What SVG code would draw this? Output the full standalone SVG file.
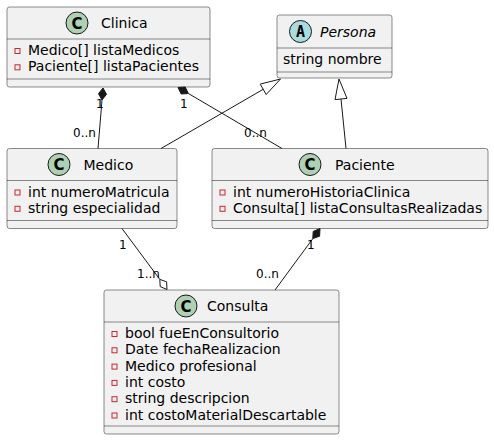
<svg xmlns="http://www.w3.org/2000/svg" width="494" height="440" viewBox="0 0 494 440">
<style>
.box{fill:#F1F1F1;stroke:#181818;stroke-width:0.5}
.sep{stroke:#181818;stroke-width:0.5}
.cc{fill:#ADD1B2;stroke:#181818;stroke-width:1}
.ca{fill:#A9DCDF;stroke:#181818;stroke-width:1}
.ltr{font-family:"DejaVu Sans",sans-serif;font-size:15px;font-weight:bold;fill:#000;text-anchor:middle}
.ltra{font-family:"DejaVu Sans Mono",monospace;font-size:15px;font-weight:bold;fill:#000;text-anchor:middle}
.name{font-family:"DejaVu Sans",sans-serif;font-size:14px;fill:#000}
.attr{font-family:"DejaVu Sans",sans-serif;font-size:14px;fill:#000}
.priv{fill:none;stroke:#C82930;stroke-width:1}
.ln{stroke:#181818;stroke-width:1;fill:none}
.lbl{font-family:"DejaVu Sans",sans-serif;font-size:12px;fill:#000}
</style>
<g id="Clinica">
<rect class="box" x="7" y="7" width="203" height="80" rx="2.5"/>
<circle class="cc" cx="77" cy="23" r="11"/>
<text class="ltr" x="77" y="28.5">C</text>
<text class="name" x="101" y="28">Clinica</text>
<line class="sep" x1="7" y1="39" x2="210" y2="39"/>
<rect class="priv" x="15" y="48.5" width="5" height="5"/>
<text class="attr" x="28" y="55">Medico[] listaMedicos</text>
<rect class="priv" x="15" y="64.8" width="5" height="5"/>
<text class="attr" x="28" y="71.3">Paciente[] listaPacientes</text>
<line class="sep" x1="7" y1="79" x2="210" y2="79"/>
</g>
<g id="Persona">
<rect class="box" x="277" y="15" width="115" height="63" rx="2.5"/>
<circle class="ca" cx="300.5" cy="31.5" r="11"/>
<text class="ltra" x="300.5" y="37">A</text>
<text class="name" x="320" y="36.5" font-style="italic">Persona</text>
<line class="sep" x1="277" y1="48" x2="392" y2="48"/>
<text class="attr" x="283" y="64">string nombre</text>
<line class="sep" x1="277" y1="72" x2="392" y2="72"/>
</g>
<g id="Medico">
<rect class="box" x="7" y="148.5" width="170" height="80" rx="2.5"/>
<circle class="cc" cx="59" cy="164.5" r="11"/>
<text class="ltr" x="59" y="170">C</text>
<text class="name" x="83.5" y="169.5">Medico</text>
<line class="sep" x1="7" y1="180.5" x2="177" y2="180.5"/>
<rect class="priv" x="15" y="190" width="5" height="5"/>
<text class="attr" x="28" y="196.5">int numeroMatricula</text>
<rect class="priv" x="15" y="206.3" width="5" height="5"/>
<text class="attr" x="28" y="212.8">string especialidad</text>
<line class="sep" x1="7" y1="220.5" x2="177" y2="220.5"/>
</g>
<g id="Paciente">
<rect class="box" x="212" y="148.5" width="276" height="80" rx="2.5"/>
<circle class="cc" cx="310" cy="164.5" r="11"/>
<text class="ltr" x="310" y="170">C</text>
<text class="name" x="335" y="169.5">Paciente</text>
<line class="sep" x1="212" y1="180.5" x2="488" y2="180.5"/>
<rect class="priv" x="220" y="190" width="5" height="5"/>
<text class="attr" x="233" y="196.5">int numeroHistoriaClinica</text>
<rect class="priv" x="220" y="206.3" width="5" height="5"/>
<text class="attr" x="233" y="212.8">Consulta[] listaConsultasRealizadas</text>
<line class="sep" x1="212" y1="220.5" x2="488" y2="220.5"/>
</g>
<g id="Consulta">
<rect class="box" x="104" y="290" width="235" height="144" rx="2.5"/>
<circle class="cc" cx="186" cy="306" r="11"/>
<text class="ltr" x="186" y="311.5">C</text>
<text class="name" x="207" y="311">Consulta</text>
<line class="sep" x1="104" y1="322" x2="339" y2="322"/>
<rect class="priv" x="112" y="331.5" width="5" height="5"/>
<text class="attr" x="125" y="338">bool fueEnConsultorio</text>
<rect class="priv" x="112" y="347.8" width="5" height="5"/>
<text class="attr" x="125" y="354.3">Date fechaRealizacion</text>
<rect class="priv" x="112" y="364.1" width="5" height="5"/>
<text class="attr" x="125" y="370.6">Medico profesional</text>
<rect class="priv" x="112" y="380.4" width="5" height="5"/>
<text class="attr" x="125" y="386.9">int costo</text>
<rect class="priv" x="112" y="396.7" width="5" height="5"/>
<text class="attr" x="125" y="403.2">string descripcion</text>
<rect class="priv" x="112" y="413" width="5" height="5"/>
<text class="attr" x="125" y="419.5">int costoMaterialDescartable</text>
<line class="sep" x1="104" y1="426" x2="339" y2="426"/>
</g>
<g id="connectors">
<line class="ln" x1="102" y1="100" x2="98" y2="148.5"/>
<polygon points="103,88 106.5,94.3 102,100 98.5,93.7" fill="#181818" stroke="#181818"/>
<text class="lbl" x="96" y="108">1</text>
<text class="lbl" x="73" y="137">0..n</text>
<line class="ln" x1="188.4" y1="93.5" x2="282" y2="148.5"/>
<polygon points="178,87.5 185.2,87 188.4,93.5 181.2,94" fill="#181818" stroke="#181818"/>
<text class="lbl" x="180" y="108">1</text>
<text class="lbl" x="244" y="137">0..n</text>
<line class="ln" x1="263.2" y1="89.3" x2="161" y2="148.5"/>
<polygon points="280.5,79 266.2,94.5 260.2,84.1" fill="none" stroke="#181818"/>
<line class="ln" x1="341" y1="99" x2="346" y2="148.5"/>
<polygon points="339,79 347,98.4 335,99.6" fill="none" stroke="#181818"/>
<line class="ln" x1="122" y1="228.5" x2="159.8" y2="279.4"/>
<polygon points="167,289.5 166.6,281.8 159.8,279.4 160.2,286.6" fill="#FFFFFF" stroke="#181818"/>
<text class="lbl" x="119" y="249">1</text>
<text class="lbl" x="137" y="278">1..n</text>
<line class="ln" x1="312.8" y1="238.6" x2="275" y2="290"/>
<polygon points="320,228.5 319.6,236.2 312.8,238.6 313.2,231.4" fill="#181818" stroke="#181818"/>
<text class="lbl" x="307" y="249">1</text>
<text class="lbl" x="256" y="278">0..n</text>
</g>
</svg>
